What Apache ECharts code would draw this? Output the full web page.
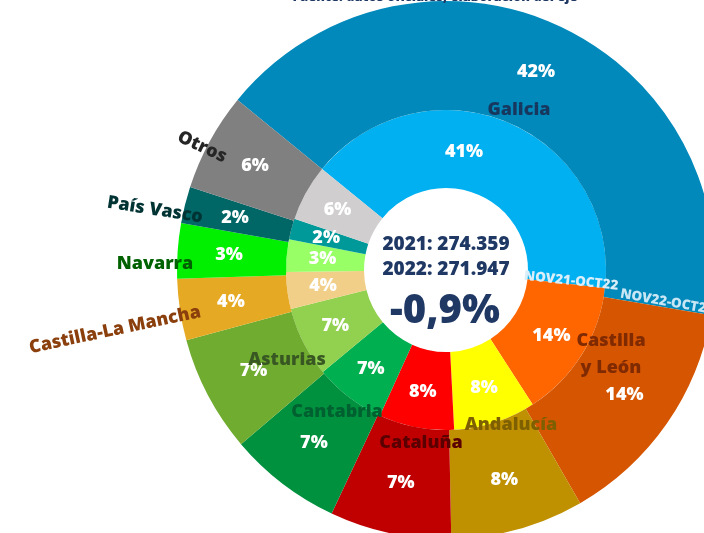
<!DOCTYPE html>
<html>
<head>
<meta charset="utf-8">
<script src="https://cdn.jsdelivr.net/npm/echarts@6/dist/echarts.min.js"></script>
<style>
  html, body { margin: 0; padding: 0; background: #fff; }
  #chart { width: 704px; height: 533px; }
</style>
</head>
<body>
<div id="chart"></div>
<script>
// comunidades, en el orden del gráfico (sentido horario desde Galicia)
var regions = ['Galicia', 'Castilla y León', 'Andalucía', 'Cataluña', 'Cantabria',
  'Asturias', 'Castilla-La Mancha', 'Navarra', 'País Vasco', 'Otros']
// cuota (%) NOV21-OCT22 -> anillo interior
var share2021 = [40.9, 14.1, 8.3, 7.6, 7.2, 7.1, 3.7, 3.3, 2.1, 5.7]
// cuota (%) NOV22-OCT23 -> anillo exterior
var share2022 = [41.8, 14.0, 8.0, 7.3, 6.8, 7.0, 3.7, 3.3, 2.2, 5.9]
var total2021 = '274.359'
var total2022 = '271.947'
var change = '-0,9%'

var innerColors = ['#00B0F0', '#FF6600', '#FFFF00', '#FF0000', '#00B050',
  '#92D050', '#F2CF88', '#99FF66', '#009999', '#D0CECE']
var outerColors = ['#0089BA', '#D55500', '#BF9000', '#C00000', '#00913F',
  '#6FAC2F', '#E6A923', '#00F000', '#006666', '#808080']

// etiquetas de nombre (colocadas a mano como en el original)
var nameLabels = [
  { text: 'Galicia', x: 519, y: 110, color: '#17375E', rot: 0 },
  { text: 'Castilla', x: 611, y: 341, color: '#7F2A00', rot: 0 },
  { text: 'y León', x: 611, y: 368, color: '#7F2A00', rot: 0 },
  { text: 'Andalucía', x: 511, y: 425, color: '#7F6000', rot: 0 },
  { text: 'Cataluña', x: 421, y: 443, color: '#5A0000', rot: 0 },
  { text: 'Cantabria', x: 337, y: 412, color: '#006030', rot: 0 },
  { text: 'Asturias', x: 287, y: 360, color: '#385723', rot: 0 },
  { text: 'Castilla-La Mancha', x: 115, y: 330, color: '#8A3F0C', rot: 12 },
  { text: 'Navarra', x: 155, y: 264, color: '#006100', rot: 0 },
  { text: 'País Vasco', x: 155, y: 210, color: '#003333', rot: -9 },
  { text: 'Otros', x: 202, y: 147, color: '#262626', rot: -25 }
]

var font = '"Open Sans", "Noto Sans", sans-serif'
var center = [446, 270]

function mkData (vals, cols) {
  return vals.map(function (v, i) {
    return { name: regions[i], value: v, itemStyle: { color: cols[i] } }
  })
}

function txt (text, x, y, size, fill, rotDeg, extra) {
  var style = {
    text: text, fill: fill, font: '800 ' + size + 'px ' + font,
    align: 'center', verticalAlign: 'middle',
    textAlign: 'center', textVerticalAlign: 'middle'
  }
  if (extra) Object.assign(style, extra)
  return { type: 'text', x: x, y: y, rotation: (rotDeg || 0) * Math.PI / 180, z: 100, style: style }
}

var shadow = { shadowColor: 'rgba(0,0,0,0.45)', shadowBlur: 2, shadowOffsetX: 1, shadowOffsetY: 1.5 }

var graphics = nameLabels.map(function (l) {
  return txt(l.text, l.x, l.y, 18, l.color, l.rot, shadow)
})

// textos centrales y de anillo
graphics = graphics.concat([
  txt('Fuente: datos oficiales, elaboración del eje', 435, -3, 13, '#1F3864'),
  txt('2021: ' + total2021, 446, 245, 19, '#1F3864'),
  txt('2022: ' + total2022, 446, 270, 19, '#1F3864'),
  txt(change, 445, 312, 40, '#1F3864'),
  txt('NOV21-OCT22', 571, 281, 13.5, '#D9EEF9', -6),
  txt('NOV22-OCT23', 667, 302, 13.5, '#C9E6F5', -10)
])

var pctLabel = {
  show: true, position: 'inside', formatter: '{d}%',
  color: '#fff', fontSize: 18, fontWeight: 800, fontFamily: 'Open Sans'
}

var chart = echarts.init(document.getElementById('chart'))
chart.setOption({
  backgroundColor: '#fff',
  animation: false,
  graphic: graphics,
  series: [
    {
      name: 'NOV21-OCT22', type: 'pie', center: center, radius: [82, 160],
      startAngle: 140.8, clockwise: true, percentPrecision: 0,
      label: pctLabel, labelLine: { show: false },
      emphasis: { disabled: true },
      labelLayout: function (p) {
        if (p.dataIndex === 0) return { dx: -30, dy: -4 }
        return {}
      },
      data: mkData(share2021, innerColors)
    },
    {
      name: 'NOV22-OCT23', type: 'pie', center: center, radius: [160, 269],
      startAngle: 140.8, clockwise: true, percentPrecision: 0,
      label: pctLabel, labelLine: { show: false },
      emphasis: { disabled: true },
      data: mkData(share2022, outerColors)
    }
  ]
})
</script>
</body>
</html>
